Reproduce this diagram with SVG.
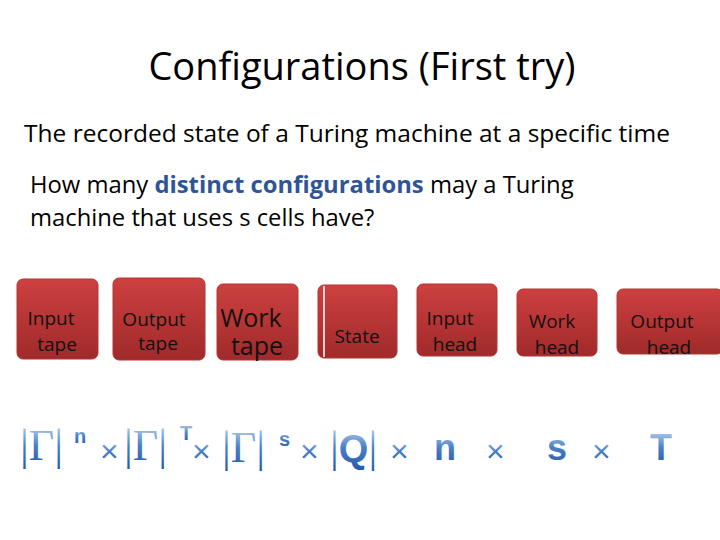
<svg xmlns="http://www.w3.org/2000/svg" width="720" height="540" viewBox="0 0 720 540">
<defs>
<linearGradient id="red" x1="0" y1="0" x2="0" y2="1"><stop offset="0" stop-color="#cd4040"/><stop offset="1" stop-color="#a02a2a"/></linearGradient>
<linearGradient id="blue" x1="0" y1="0" x2="0" y2="1"><stop offset="0" stop-color="#cfe0f5"/><stop offset="0.5" stop-color="#4a7fc8"/><stop offset="1" stop-color="#2456a8"/></linearGradient>
</defs>
<style>
.t{font-family:"Open Sans","Liberation Sans",sans-serif;fill:#000}
.box{fill:url(#red);stroke:#b53535;stroke-width:1}
.bl{font-family:"Open Sans","Liberation Sans",sans-serif;fill:#111;text-anchor:middle}
.f{font-family:"Liberation Serif",serif;fill:url(#blue);font-size:44px}
.fb{font-family:"Liberation Sans",sans-serif;fill:url(#blue);font-weight:bold}
.x{font-family:"Liberation Sans",sans-serif;fill:url(#blue);font-size:32px}
.sup{font-family:"Liberation Sans",sans-serif;fill:url(#blue);font-size:20px;font-weight:bold}
</style>
<rect width="720" height="540" fill="#fff"/>
<text class="t" x="362" y="80" font-size="38" text-anchor="middle">Configurations  (First try)</text>
<text class="t" x="24" y="142" font-size="24.5">The recorded state of a Turing machine at a specific time</text>
<text class="t" x="30" y="193" font-size="23.8">How many <tspan fill="#2f5597" font-weight="bold">distinct configurations</tspan> may a Turing</text>
<text class="t" x="30" y="226" font-size="23.8">machine that uses s cells have?</text>
<g id="n1"><rect class="box" x="17" y="279" width="81" height="80" rx="6"/><text class="bl" font-size="19" x="51" y="325">Input</text><text class="bl" font-size="19" x="57" y="351">tape</text></g>
<g id="n2"><rect class="box" x="113" y="278" width="92" height="82" rx="6"/><text class="bl" font-size="19" x="154" y="326">Output</text><text class="bl" font-size="19" x="158" y="350">tape</text></g>
<g id="n3"><rect class="box" x="217" y="284" width="81" height="76" rx="6"/><text class="bl" font-size="25" x="251" y="327">Work</text><text class="bl" font-size="25" x="257" y="355">tape</text></g>
<g id="n4"><rect class="box" x="318" y="285" width="79" height="73" rx="6"/><line x1="324" y1="286" x2="324" y2="357" stroke="#fff" stroke-width="1.5"/><text class="bl" font-size="19" x="357" y="343">State</text></g>
<g id="n5"><rect class="box" x="417" y="284" width="80" height="72" rx="6"/><text class="bl" font-size="19" x="450" y="325">Input</text><text class="bl" font-size="19" x="455" y="351">head</text></g>
<g id="n6"><rect class="box" x="517" y="289" width="80" height="67" rx="6"/><text class="bl" font-size="19" x="552" y="328">Work</text><text class="bl" font-size="19" x="557" y="354">head</text></g>
<g id="n7"><rect class="box" x="617" y="289" width="106" height="65" rx="6"/><text class="bl" font-size="19" x="662" y="328">Output</text><text class="bl" font-size="19" x="669" y="354">head</text></g>
<g id="formula">
<text class="f" x="20" y="460">|Γ|</text><text class="sup" x="74" y="443">n</text>
<text class="x" x="100" y="462">×</text>
<text class="f" x="124" y="460">|Γ|</text><text class="sup" x="180" y="440">T</text>
<text class="x" x="192" y="462">×</text>
<text class="f" x="222" y="462">|Γ|</text><text class="sup" x="279" y="446">s</text>
<text class="x" x="300" y="462">×</text>
<text class="f" x="330" y="462">|<tspan class="fb" font-size="38">Q</tspan>|</text>
<text class="x" x="390" y="462">×</text>
<text class="fb" x="434" y="460" font-size="36">n</text>
<text class="x" x="486" y="462">×</text>
<text class="fb" x="547" y="460" font-size="36">s</text>
<text class="x" x="592" y="462">×</text>
<text class="fb" x="650" y="460" font-size="36">T</text>
</g>
</svg>
